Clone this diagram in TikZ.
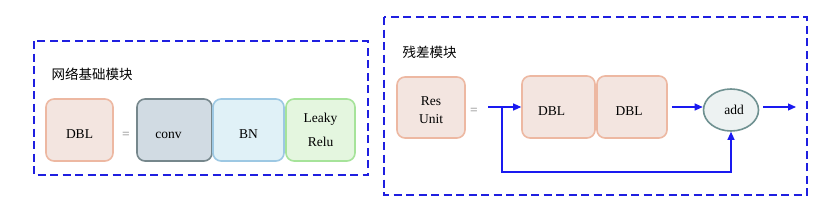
\documentclass[tikz,border=0pt]{standalone}
\usepackage{fontspec}
\setmainfont{Liberation Serif}
\newfontfamily\cjk{Noto Sans CJK SC}
\usetikzlibrary{arrows.meta,shapes.geometric}
\definecolor{dashblue}{HTML}{1F1FE0}
\definecolor{arrblue}{HTML}{1A1AF0}
\definecolor{peachfill}{HTML}{F3E5E0}
\definecolor{peachline}{HTML}{EDB8A2}
\definecolor{convfill}{HTML}{D1DBE3}
\definecolor{convline}{HTML}{76878C}
\definecolor{bnfill}{HTML}{E0F1F7}
\definecolor{bnline}{HTML}{9DC8E3}
\definecolor{lrfill}{HTML}{E4F6DF}
\definecolor{lrline}{HTML}{A6E39A}
\definecolor{addfill}{HTML}{EDF2F2}
\definecolor{addline}{HTML}{6F9191}
\begin{document}
\begin{tikzpicture}[x=1pt,y=-1pt,
  frame/.style={draw=dashblue,line width=1.6pt,dash pattern=on 8pt off 4.5pt},
  blk/.style={rounded corners=8pt,line width=1.6pt,align=center,font=\fontsize{13.5}{16}\selectfont,inner sep=0pt},
  low/.style={text height=17pt,text depth=0pt},
  peach/.style={blk,draw=peachline,fill=peachfill},
  title/.style={font=\cjk\fontsize{13.5}{15}\selectfont,anchor=west},
  eq/.style={text=gray,font=\fontsize{13.5}{15}\selectfont},
  arr/.style={draw=arrblue,line width=1.1pt,-{Triangle[length=8pt,width=7pt]}}]
\useasboundingbox (0,0) rectangle (827,204);
% left frame
\draw[frame] (34,41) rectangle (368,175);
\node[title] (t1) at (48,74) {网络基础模块};
\node[peach,low,minimum width=67pt,minimum height=62pt] (dbl) at (79.5,130) {DBL};
\node[eq] (eq1) at (126,135) {=};
\node[blk,low,draw=convline,fill=convfill,minimum width=75pt,minimum height=62pt] (conv) at (174.5,130) {\hspace*{-12pt}conv};
\node[blk,low,draw=bnline,fill=bnfill,minimum width=71pt,minimum height=62pt] (bn) at (248.5,130) {BN};
\node[blk,draw=lrline,fill=lrfill,minimum width=69pt,minimum height=62pt] (lr) at (320.5,130) {Leaky\\[8pt]Relu};
% right frame
\draw[frame] (384,17) rectangle (807,195);
\node[title] (t2) at (399,52) {残差模块};
\node[peach,minimum width=68pt,minimum height=61pt] (res) at (431,107.5) {\rule{0pt}{14pt}Res\\[2pt]Unit};
\node[eq] (eq2) at (474,111) {=};
\node[peach,low,minimum width=73pt,minimum height=62pt] (dbl1) at (558.5,107) {\hspace*{-14pt}DBL};
\node[peach,low,minimum width=70pt,minimum height=62pt] (dbl2) at (632,107) {\hspace*{-6pt}DBL};
\node[ellipse,draw=addline,fill=addfill,line width=1.6pt,minimum width=55pt,minimum height=42pt,inner sep=0pt,font=\fontsize{13.5}{15}\selectfont] (add) at (731,110) {\hspace*{6pt}add};
\coordinate (start) at (488,107);
\coordinate (split) at (502,107);
\coordinate (loop) at (502,172);
\coordinate (out) at (796,107);
\draw[arr] (start) -- (dbl1.west);
\draw[arr,shorten <=4pt] (dbl2.east) -- (dbl2.east -| add.west);
\draw[arr,shorten <=4pt] (add.east |- out) -- (out);
\draw[arr] (split) -- (loop) -| (add.south);
\end{tikzpicture}
\end{document}
